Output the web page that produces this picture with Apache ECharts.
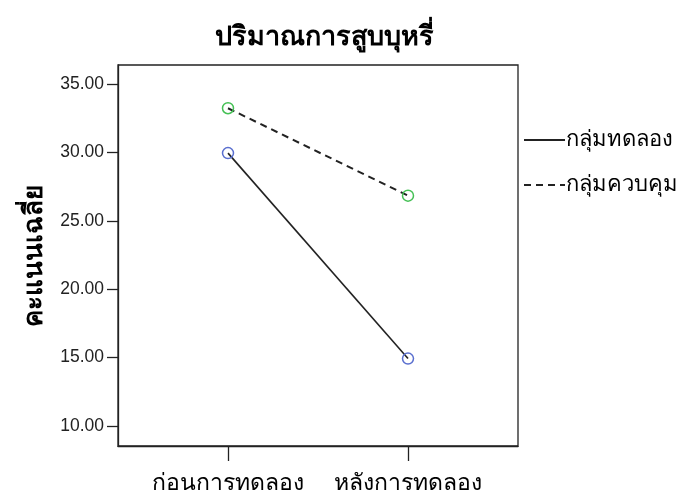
<!DOCTYPE html>
<html><head><meta charset="utf-8">
<script src="https://cdn.jsdelivr.net/npm/echarts@6/dist/echarts.min.js"></script>
<style>html,body{margin:0;padding:0;background:#fff}#c{width:681px;height:495px}</style>
</head><body><div id="c"></div>
<script>
const title = 'ปริมาณการสูบบุหรี่';
const yAxisName = 'คะแนนเฉลี่ย';
const categories = ['ก่อนการทดลอง', 'หลังการทดลอง'];
const seriesNames = ['กลุ่มทดลอง', 'กลุ่มควบคุม'];
const experimental = [29.95, 14.93];
const control = [33.23, 26.84];
const yTicks = [10, 15, 20, 25, 30, 35];

const FONT = '"Noto Sans", "DejaVu Sans", sans-serif';
const NUMFONT = '"Liberation Sans", Arial, sans-serif';
const toPairs = arr => arr.map((v, i) => [i, v]);

const chart = echarts.init(document.getElementById('c'));
chart.setOption({
  animation: false,
  backgroundColor: '#fff',
  title: {
    text: title, left: 319, top: 19, textAlign: 'center',
    textStyle: { fontFamily: FONT, fontSize: 27, fontWeight: 'bold', color: '#000' }
  },
  grid: { left: 118, right: 163, top: 65, bottom: 48, show: true, borderColor: '#222', borderWidth: 1.3, backgroundColor: 'transparent' },
  legend: {
    orient: 'vertical', left: 518, top: 124, itemWidth: 41, itemHeight: 14, itemGap: 23,
    itemStyle: { opacity: 0 },
    lineStyle: { width: 2 },
    textStyle: { fontFamily: FONT, fontSize: 22, color: '#000', padding: [0, 0, 0, -4] },
    data: seriesNames
  },
  xAxis: {
    type: 'value', min: -0.6111, max: 1.6111,
    axisLine: { show: true, onZero: false, lineStyle: { color: '#222', width: 1.3 } },
    axisTick: { show: true, length: 15, customValues: [0, 1], lineStyle: { color: '#222', width: 1.3 } },
    axisLabel: { customValues: [0, 1], margin: 26, fontFamily: FONT, fontSize: 23, color: '#000',
      formatter: v => categories[Math.round(v)] },
    splitLine: { show: false }
  },
  yAxis: {
    type: 'value', min: 8.54, max: 36.39,
    name: yAxisName, nameLocation: 'middle', nameGap: 70, nameRotate: 90,
    nameTextStyle: { fontFamily: FONT, fontSize: 26, fontWeight: 'bold', color: '#000' },
    axisLine: { show: true, onZero: false, lineStyle: { color: '#222', width: 1.3 } },
    axisTick: { show: true, length: 11, customValues: yTicks, lineStyle: { color: '#222', width: 1.3 } },
    axisLabel: { customValues: yTicks, margin: 14, fontFamily: NUMFONT, fontSize: 17.5, color: '#222',
      formatter: v => v.toFixed(2) },
    splitLine: { show: false }
  },
  series: [
    {
      name: seriesNames[0], type: 'line', data: toPairs(experimental),
      symbol: 'circle', symbolSize: 11,
      lineStyle: { color: '#222', width: 1.6, type: 'solid' },
      itemStyle: { color: 'rgba(255,255,255,0)', borderColor: '#5a6fcf', borderWidth: 1.5 }
    },
    {
      name: seriesNames[1], type: 'line', data: toPairs(control),
      symbol: 'circle', symbolSize: 11,
      lineStyle: { color: '#222', width: 2, type: [7, 5] },
      itemStyle: { color: 'rgba(255,255,255,0)', borderColor: '#45c055', borderWidth: 1.5 }
    }
  ]
});
</script></body></html>
